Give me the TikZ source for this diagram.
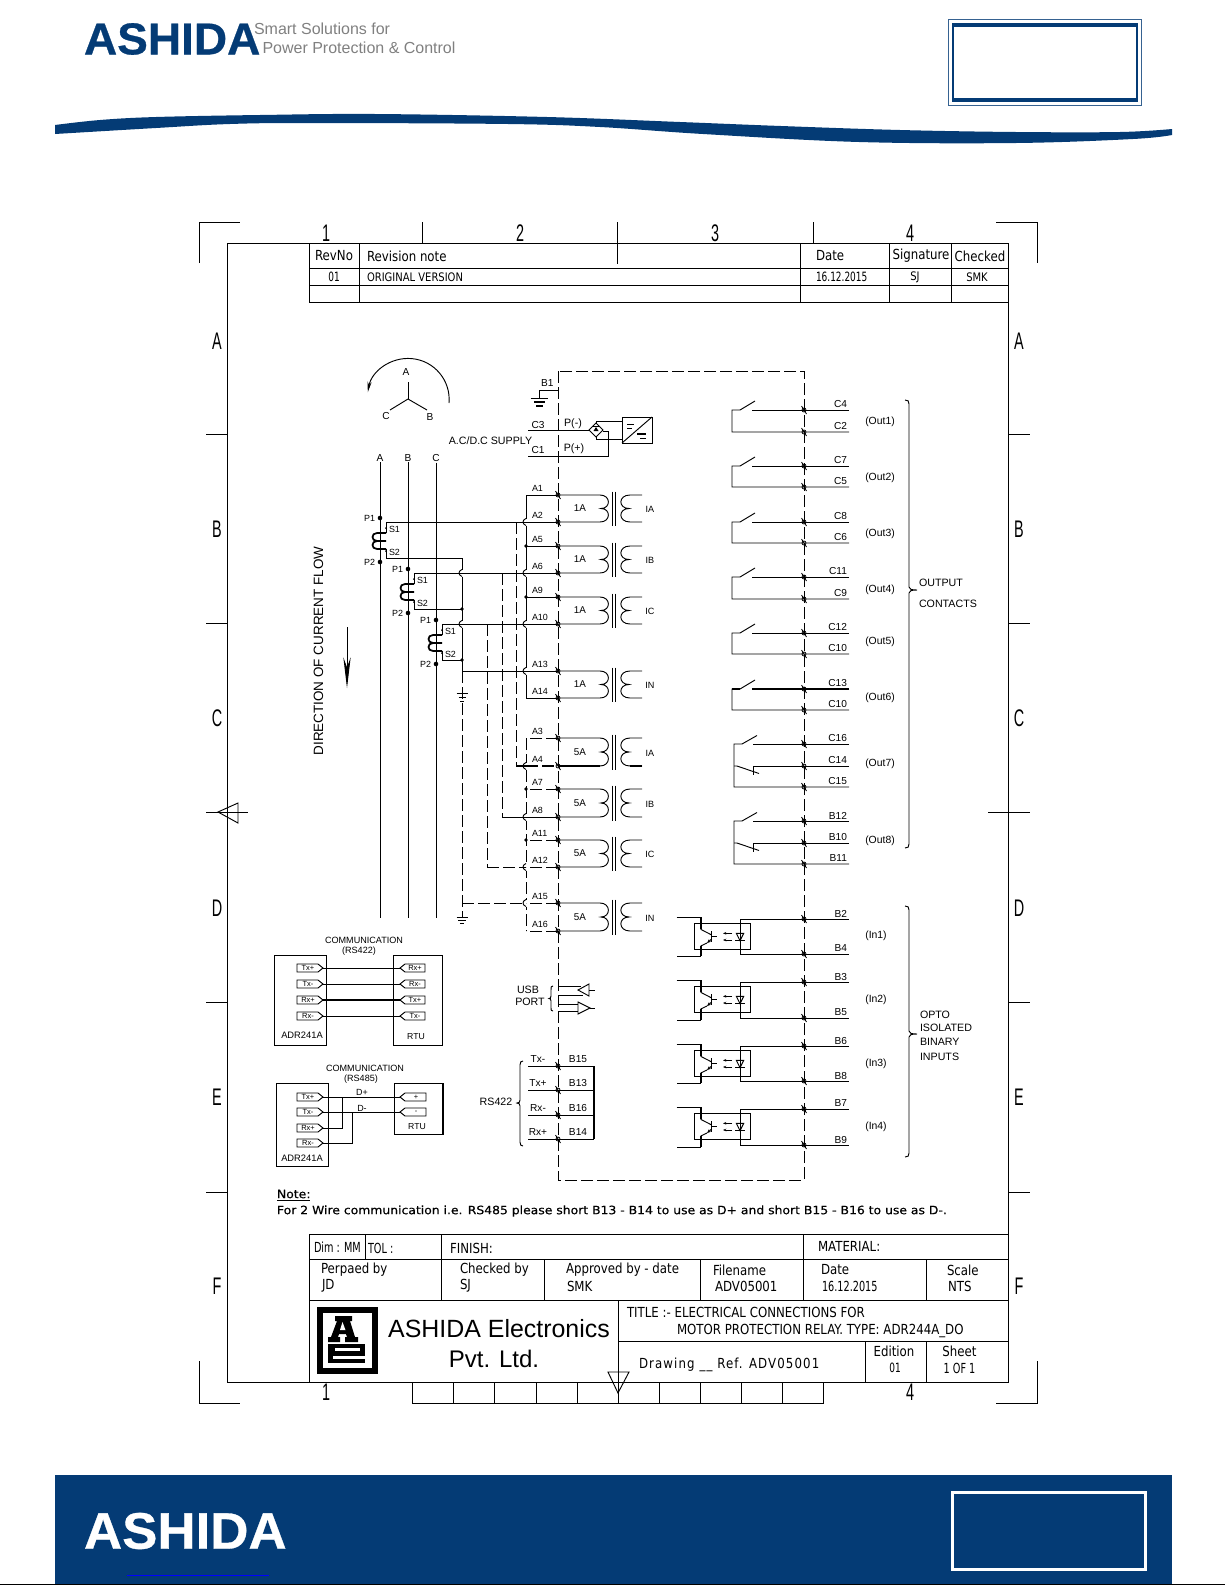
\documentclass[tikz,border=0pt]{standalone}
\usepackage{fontspec}
\setmainfont{Liberation Sans}
\newfontfamily\cadfont[FakeStretch=0.85]{DejaVu Sans}
\newfontfamily\cadnarrow[FakeStretch=0.7]{DejaVu Sans}
\newfontfamily\cadwide[FakeStretch=0.85,LetterSpace=8]{DejaVu Sans}
\newfontfamily\notefont[FakeStretch=1.08,FakeBold=0.4]{DejaVu Sans}
\newfontfamily\sidefont[FakeStretch=0.6]{Liberation Sans}
\newfontfamily\brandfont[FakeStretch=1.03,FakeBold=0.6]{Liberation Sans Bold}
\usetikzlibrary{arrows.meta,calc}
\definecolor{ashidablue}{HTML}{043B75}
\newcommand{\fs}[1]{\fontsize{#1}{#1}\selectfont}
\newcommand{\wirehop}[1]{%
    \fill[white] ($(#1)+(-.6,-3.5)$) rectangle ($(#1)+(.6,3.5)$);
    \draw[wire] ($(#1)+(0,-3.5)$) .. controls ($(#1)+(-4,-2)$) and ($(#1)+(-4,2)$) .. ($(#1)+(0,3.5)$);}
\tikzset{
    wire/.style={line width=.7pt},
    boldwire/.style={line width=1.3pt},
    dashwire/.style={line width=.7pt,dash pattern=on 9pt off 3pt},
    tableline/.style={line width=.65pt},
    thinline/.style={line width=.5pt},
    txt/.style={inner sep=0pt,outer sep=0pt},
    termlbl/.style={txt,font=\fs{6.7}},
    sidelbl/.style={txt,font=\fs{7.6}},
    biglbl/.style={txt,font=\fs{8}},
    taglbl/.style={txt,font=\fs{5.6}},
    cad/.style={txt,font=\cadfont\fs{10.4}},
    cadsmall/.style={txt,font=\cadfont\fs{8.8}},
    caddigit/.style={txt,font=\cadnarrow\fs{9.6}},
    ruler/.style={txt,font=\sidefont\fs{18}},
    termmark/.pic={
        \draw[line width=.6pt] (0,0) circle[radius=2];
        \draw[line width=.6pt] (-2.5,-4) -- (2.5,4);
    }
}
\begin{document}
\begin{tikzpicture}[x=.75pt,y=-.75pt]
    \useasboundingbox (0,0) rectangle (1225,1585);

    \node[txt,anchor=west,text=ashidablue,font=\brandfont\fs{33.5}] (brand) at (84,39) {ASHIDA};
    \node[txt,anchor=west,text=gray,font=\fs{12}] (slogana) at (254,29) {Smart Solutions for};
    \node[txt,anchor=west,text=gray,font=\fs{12}] (sloganb) at (262.5,48) {Power Protection \& Control};
    \draw[ashidablue!80,thinline] (948,19) rectangle (1141,105.5);
    \draw[ashidablue,line width=1.5pt] (953,24) rectangle (1137,101);
    \draw[ashidablue,line width=2.4pt] (953,25) -- (1137,25);
    \draw[ashidablue,line width=2.4pt] (953,100) -- (1137,100);
    \fill[ashidablue] plot[smooth,tension=.6] coordinates {(55,125) (100,120) (156,117) (260,115) (375,114) (547,117) (680,122) (781,126) (900,130) (1016,132) (1120,132) (1172,129)}
        -- plot[smooth,tension=.6] coordinates {(1172,135) (1133,139) (1016,143) (859,142) (703,134) (600,127) (508,124) (312,123) (230,124) (156,128) (55,134)} -- cycle;

    \fill[ashidablue] (55,1475) rectangle (1172,1584);
    \node[txt,anchor=west,text=white,font=\brandfont\fs{38.5}] (brandfoot) at (84,1531) {ASHIDA};
    \draw[white,line width=2.6pt] (952.5,1492.5) rectangle (1145.5,1569.5);
    \draw[blue,line width=.7pt] (127,1575) -- (269,1575);
    \draw[black,line width=1pt] (0,1584.5) -- (1225,1584.5);

    \draw[wire] (199,263) -- (199,222) -- (240,222);
    \draw[wire] (996,222) -- (1037.5,222) -- (1037.5,263);
    \draw[wire] (199,1361) -- (199,1403) -- (240,1403);
    \draw[wire] (996,1403) -- (1037.5,1403) -- (1037.5,1361);
    \draw[tableline] (227,243) rectangle (1008.6,1382);
    \draw[thinline] (422,222) -- (422,243);
    \draw[thinline] (617,222) -- (617,264);
    \draw[thinline] (813,222) -- (813,243);
    \foreach \n/\x in {1/326,2/520,3/715,4/910} {
        \node[ruler] (top\n) at (\x,233) {\n};
    }
    \node[ruler] (bot1) at (326,1392) {1};
    \node[ruler] (bot4) at (910,1392) {4};
    \foreach \t/\y in {A/341,B/529,C/718,D/908,E/1097,F/1286} {
        \node[ruler] (left\t) at (217,\y) {\t};
        \node[ruler] (right\t) at (1019,\y) {\t};
    }
    \foreach \y in {434.6,623,1002,1192} {
        \draw[thinline] (206,\y) -- (227,\y);
        \draw[thinline] (1008.6,\y) -- (1030,\y);
    }
    \draw[wire] (206,812) -- (248,812);
    \draw[wire] (218,812) -- (238,803) -- (238,823) -- cycle;
    \draw[wire] (988,812) -- (1030,812);
    \draw[tableline] (412.5,1382) -- (412.5,1403) -- (823,1403) -- (823,1382);
    \foreach \x in {453.5,494.5,536,577,618,659,700.5,741.5,782} {
        \draw[thinline] (\x,1382) -- (\x,1403);
    }
    \draw[wire] (608,1372) -- (629,1372) -- (618,1393) -- cycle;

    \draw[tableline] (309,243) -- (309,302) -- (1008.6,302);
    \draw[tableline] (309,268) -- (1008.6,268);
    \draw[tableline] (309,285) -- (1008.6,285);
    \foreach \x in {359,800,889,951.6} {
        \draw[thinline] (\x,243) -- (\x,302);
    }
    \node[cad] (revno) at (334,256) {RevNo};
    \node[cad,anchor=west] (revnote) at (367,256) {Revision note};
    \node[cad,anchor=west] (revdate) at (816,256) {Date};
    \node[cad] (revsign) at (921,256) {Signature};
    \node[cad] (revcheck) at (980,256) {Checked};
    \node[caddigit] (revone) at (334,277) {01};
    \node[cadsmall,anchor=west] (revtext) at (367,277) {ORIGINAL VERSION};
    \node[caddigit,anchor=west] (revday) at (816,277) {16.12.2015};
    \node[cadsmall] (revsj) at (915,277) {SJ};
    \node[cadsmall] (revsmk) at (977,277) {SMK};

    \draw[wire] (408,399) -- (408,382);
    \draw[wire] (408,399) -- (390,410);
    \draw[wire] (408,399) -- (427,410);
    \node[sidelbl] (stara) at (406,372) {A};
    \node[sidelbl] (starc) at (386,416) {C};
    \node[sidelbl] (starb) at (430,417) {B};
    \draw[wire,-{Stealth[length=8pt,width=3pt]}] (449,403) arc[start angle=5,end angle=-170,radius=41];

    \draw[dashwire] (558,371) rectangle (804,1180);

    \node[sidelbl,anchor=west] (lblb1) at (541,383) {B1};
    \draw[wire] (558,390) -- (539,390) -- (539,398);
    \draw[wire] (530.5,398) -- (547.5,398);
    \draw[line width=1pt] (534,402) -- (545,402);
    \draw[line width=1.3pt] (536,406) -- (543,406);
    \coordinate (C3) at (558,430);
    \coordinate (C1) at (558,456);
    \node[sidelbl] (lblc3) at (538,425) {C3};
    \node[sidelbl] (lblc1) at (538,450) {C1};
    \node[biglbl] (lblpneg) at (573,424) {P(-)};
    \node[biglbl] (lblppos) at (574,449) {P(+)};
    \node[biglbl] (lblsupply) at (490.5,441) {A.C/D.C SUPPLY};
    \draw[wire] (589,430) -- (596,423) -- (603,430) -- (596,437) -- cycle;
    \fill (596,427) -- (598.5,431) -- (593.5,431) -- cycle;
    \draw[thinline] (593,426.5) -- (599,426.5);
    \draw[wire] (C3) ++(-30,0) -- (589,430);
    \draw[wire] (C1) ++(-30,0) -- (608,456) -- (608,431) -- (603,431);
    \draw[wire] (596,423) -- (596,421.5) -- (622,421.5);
    \draw[wire] (596,437) -- (596,439) -- (622,439);
    \draw[wire] (622,417) rectangle (652,443);
    \draw[wire] (622,443) -- (652,417);
    \draw[wire] (627,424) -- (634,424);
    \draw[wire] (627,428) -- (632,428);
    \draw[line width=1pt] (637,434) -- (646,434);
    \draw[wire] (640,438.5) -- (646,438.5);

    \foreach \t/\x in {A/380,B/408,C/436} {
        \node[sidelbl] (phase\t) at (\x,458) {\t};
        \draw[wire] (phase\t.south) ++(0,1) -- (\x,918);
    }
    \foreach \p/\X/\Y in {a/380/518,b/408/569,c/436/620} {
        \fill (\X,\Y) circle[radius=2.3];
        \fill (\X,\Y+44) circle[radius=2.3];
        \node[termlbl,anchor=east] (\p pa) at (\X-5,\Y) {P1};
        \node[termlbl,anchor=east] (\p pb) at (\X-5,\Y+44) {P2};
        \node[termlbl,anchor=west] (\p sa) at (\X+9,\Y+11) {S1};
        \node[termlbl,anchor=west] (\p sb) at (\X+9,\Y+34) {S2};
        \coordinate (\p top) at (\X+6,\Y+4);
        \coordinate (\p bot) at (\X+6,\Y+40);
        \fill (\X+6,\Y+10) circle[radius=1];
        \fill (\X+6,\Y+33) circle[radius=1];
        \draw[wire] (\p top) -- (\X+6,\Y+15);
        \draw[wire] (\p bot) -- (\X+6,\Y+31);
        \draw[boldwire] (\X+6,\Y+15) -- (\X-3,\Y+15) .. controls (\X-9,\Y+15) and (\X-9,\Y+23) .. (\X-3,\Y+23) -- (\X+6,\Y+23);
        \draw[boldwire] (\X-3,\Y+23) .. controls (\X-9,\Y+23) and (\X-9,\Y+31) .. (\X-3,\Y+31) -- (\X+6,\Y+31);
    }

    \foreach \n/\y in {A1/495,A2/522,A5/546,A6/573,A9/597,A10/624,A13/671,A14/698,A3/738,A4/766,A7/789,A8/817,A11/840,A12/867,A15/903,A16/931} {
        \coordinate (\n) at (558,\y);
        \coordinate (\n b) at (526,\y);
        \node[termlbl,anchor=west] (lbl\n) at (532,\y-6.5) {\n};
    }
    \draw[wire] (A1b) -- (A14b);
    \draw[dashwire] (A3b) -- (A16b);
    \foreach \n in {A2,A6,A10,A13,A4,A8,A12,A15} {
        \wirehop{\n b}
    }
    \coordinate (neuta) at (462,558);
    \coordinate (neutb) at (462,671);
    \coordinate (neutc) at (462,917);
    \draw[wire] (neutb) -- (neuta);
    \draw[dashwire] (neutb) -- (neutc);
    \wirehop{462,573}
    \wirehop{462,624}
    \foreach \n in {A1,A2,A5,A6,A9,A10,A13,A14} {
        \draw[wire] (\n) -- (\n b);
    }
    \foreach \n in {A3,A7,A11,A12,A15,A16} {
        \draw[dashwire] (\n) -- (\n b);
    }
    \draw[wire] (A8) -- (A8b);
    \draw[wire] (A2b) -- (atop);
    \draw[wire] (A6b) -- (btop);
    \draw[wire] (A10b) -- (ctop);
    \draw[wire] (A13b) -- (neutb);
    \draw[wire] (abot) -- (neuta);
    \draw[wire] (bbot) -- (462,609);
    \draw[wire] (cbot) -- (462,660);
    \fill (462,609) circle[radius=1.8];
    \fill (462,660) circle[radius=1.8];
    \foreach \n in {A5,A9,A7,A11} {
        \fill (\n b) circle[radius=1.8];
    }
    \draw[dashwire] (516,522) -- (516,766);
    \draw[dashwire] (502,573) -- (502,817);
    \draw[dashwire] (487,624) -- (487,867);
    \draw[boldwire] (516,766) -- (A4b);
    \draw[line width=1.3pt,dash pattern=on 9pt off 3pt] (A4b) -- (A4);
    \draw[wire] (502,817) -- (A8b);
    \draw[dashwire] (487,867) -- (A12b);
    \draw[dashwire] (neutc |- A15) -- (A15b);
    \foreach \y/\w in {693/5.5,697/3.5,701/2} {
        \draw[wire] (462-\w,\y) -- (462+\w,\y);
    }
    \foreach \y/\w in {917/5.5,920/3.8,923/2.2} {
        \draw[wire] (462-\w,\y) -- (462+\w,\y);
    }
    \foreach \a/\b/\amp/\sec in {A1/A2/1A/IA,A5/A6/1A/IB,A9/A10/1A/IC,A13/A14/1A/IN,A3/A4/5A/IA,A7/A8/5A/IB,A11/A12/5A/IC,A15/A16/5A/IN} {
        \coordinate (mid) at ($(\a)!.5!(\b)$);
        \draw[wire] (\a) -- ++(42,0) .. controls ($(\a)+(53,0)$) and ($(mid)+(53,0)$) .. ($(mid)+(43,0)$)
            .. controls ($(mid)+(53,0)$) and ($(\b)+(53,0)$) .. ($(\b)+(42,0)$) -- (\b);
        \draw[wire] ($(\a)+(84,0)$) -- ($(\a)+(72,0)$) .. controls ($(\a)+(60,0)$) and ($(mid)+(60,0)$) .. ($(mid)+(71,0)$)
            .. controls ($(mid)+(60,0)$) and ($(\b)+(60,0)$) .. ($(\b)+(72,0)$) -- ($(\b)+(84,0)$);
        \draw[wire] ($(\a)+(54.7,-3.5)$) -- ($(\b)+(54.7,3.5)$);
        \draw[wire] ($(\a)+(57.7,-3.5)$) -- ($(\b)+(57.7,3.5)$);
        \node[txt,font=\fs{7.4}] (amp\a) at ($(mid)+(22,0)$) {\amp};
        \node[txt,font=\fs{6.8}] (sec\a) at ($(mid)+(92,1)$) {\sec};
    }
    \draw[boldwire] (A4) -- ++(42,0);
    \draw[boldwire] ($(A4)+(72,0)$) -- ++(12,0);
    \foreach \n in {A1,A2,A5,A6,A9,A10,A13,A14,A3,A4,A7,A8,A11,A12,A15,A16} {
        \pic at (\n) {termmark};
    }

    \node[txt,rotate=90,font=\fs{10.1}] (flowlbl) at (318.5,651) {DIRECTION OF CURRENT FLOW};
    \draw[wire,-{Stealth[length=23pt,width=5.5pt]}] (347,627) -- (347,688);

    \foreach \n/\t/\y in {C4/C4/410,C2/C2/432,C7/C7/466,C5/C5/487,C8/C8/522,C6/C6/543,C11/C11/577,C9/C9/599,C12/C12/633,C10a/C10/654,C13/C13/689,C10b/C10/710,C16/C16/744,C14/C14/766,C15/C15/787,B12/B12/821,B10/B10/843,B11/B11/864,B2/B2/919,B4/B4/954,B3/B3/982,B5/B5/1018,B6/B6/1046,B8/B8/1081,B7/B7/1109,B9/B9/1145} {
        \coordinate (\n) at (804,\y);
        \node[sidelbl,anchor=east] (lbl\n) at (847,\y-5.5) {\t};
    }
    \foreach \a/\b in {C4/C2,C7/C5,C8/C6,C11/C9,C12/C10a,C13/C10b} {
        \draw[wire] ($(\a)+(45,0)$) -- ($(\a)+(-52,0)$);
        \draw[wire] ($(\b)+(45,0)$) -- ($(\b)+(-72,0)$) -- ($(\a)+(-72,0)$) -- ($(\a)+(-64,0)$) -- ($(\a)+(-49,-9)$);
    }
    \draw[boldwire] ($(C13)+(45,0)$) -- ($(C13)+(-52,0)$);
    \draw[boldwire] ($(C13)+(-72,0)$) -- ($(C13)+(-64,0)$);
    \foreach \a/\c/\b in {C16/C14/C15,B12/B10/B11} {
        \draw[wire] ($(\a)+(45,0)$) -- ($(\a)+(-51,0)$);
        \draw[wire] ($(\b)+(45,0)$) -- ($(\b)+(-70,0)$) -- ($(\a)+(-70,0)$) -- ($(\a)+(-62,0)$) -- ($(\a)+(-47,-8.5)$);
        \draw[wire] ($(\c)+(45,0)$) -- ($(\c)+(-51,0)$) -- ($(\c)+(-51,9)$);
        \draw[wire] ($(\c)+(-70,0)$) -- ($(\c)+(-67,0)$) -- ($(\c)+(-45,7.5)$);
    }
    \foreach \n/\y in {1/422,2/478.3,3/533.7,4/589.7,5/641.7,6/697.7,7/763.3,8/840.3} {
        \node[txt,font=\fs{7.8}] (out\n) at (880,\y) {(Out\n)};
    }
    \foreach \n/\y in {1/936,2/1000,3/1063.3,4/1127} {
        \node[txt,font=\fs{7.8}] (in\n) at (876,\y) {(In\n)};
    }
    \draw[wire] (905,400) .. controls (908,400) and (909,401) .. (909,404) -- (909,587) .. controls (909,589) and (911,590) .. (917,590)
        .. controls (911,590) and (909,591) .. (909,593) -- (909,844) .. controls (909,847) and (908,848) .. (905,848);
    \draw[wire] (905,906) .. controls (908,906) and (909,907) .. (909,910) -- (909,1031) .. controls (909,1033) and (911,1034) .. (917,1034)
        .. controls (911,1034) and (909,1035) .. (909,1037) -- (909,1153) .. controls (909,1156) and (908,1157) .. (905,1157);
    \node[biglbl,anchor=west] (outa) at (919,583) {OUTPUT};
    \node[biglbl,anchor=west] (outb) at (919,604) {CONTACTS};
    \node[biglbl,anchor=west] (optoa) at (920,1014.5) {OPTO};
    \node[biglbl,anchor=west] (optob) at (920,1028) {ISOLATED};
    \node[biglbl,anchor=west] (optoc) at (920,1042) {BINARY};
    \node[biglbl,anchor=west] (optod) at (920,1056.5) {INPUTS};

    \foreach \a/\b in {B2/B4,B3/B5,B6/B8,B7/B9} {
        \draw[wire] ($(\a)+(45,0)$) -- ($(\a)+(-64,0)$) -- ($(\b)+(-64,0)$) -- ($(\b)+(45,0)$);
        \draw[wire] ($(\a)+(-110,4.5)$) rectangle ($(\a)+(-54,30.5)$);
        \draw[wire] ($(\a)+(-67.7,14.3)$) -- ($(\a)+(-60.3,14.3)$) -- ($(\a)+(-64,21.7)$) -- cycle;
        \draw[wire] ($(\a)+(-69,21.7)$) -- ($(\a)+(-59,21.7)$);
        \draw[wire,-{Stealth[length=2.5pt,width=2pt]}] ($(\a)+(-72,14.3)$) -- ($(\a)+(-81,14.3)$);
        \draw[wire,-{Stealth[length=2.5pt,width=2pt]}] ($(\a)+(-72,21)$) -- ($(\a)+(-81,21)$);
        \draw[wire] ($(\a)+(-127.3,-2)$) -- ($(\a)+(-103.3,-2)$);
        \draw[boldwire] ($(\a)+(-103.3,-2)$) -- ($(\a)+(-103.3,10.3)$);
        \draw[wire] ($(\a)+(-103.3,10.3)$) -- ($(\a)+(-92.3,16)$);
        \draw[wire] ($(\a)+(-92.3,12)$) -- ($(\a)+(-92.3,23)$);
        \draw[wire] ($(\a)+(-92.3,17)$) -- ($(\a)+(-87.3,17)$);
        \draw[wire,{Stealth[length=3pt,width=2.5pt]}-] ($(\a)+(-97,24)$) -- ($(\a)+(-92.3,20)$);
        \draw[wire] ($(\a)+(-97,24)$) -- ($(\a)+(-103.3,27)$);
        \draw[boldwire] ($(\a)+(-103.3,27)$) -- ($(\b)+(-103.3,2)$);
        \draw[wire] ($(\b)+(-103.3,2)$) -- ($(\b)+(-127.3,2)$);
    }
    \foreach \n in {C4,C2,C7,C5,C8,C6,C11,C9,C12,C10a,C13,C10b,C16,C14,C15,B12,B10,B11,B2,B4,B3,B5,B6,B8,B7,B9} {
        \pic at (\n) {termmark};
    }

    \node[txt,font=\fs{6.8}] (commone) at (364,940) {COMMUNICATION};
    \node[txt,font=\fs{6.8}] (commonetype) at (359,951) {(RS422)};
    \draw[wire] (274,955) rectangle (326,1045);
    \draw[wire] (393,955) rectangle (442,1045);
    \node[txt,font=\fs{7}] (devone) at (302,1035) {ADR241A};
    \node[txt,font=\fs{6.5}] (rtuone) at (416,1037) {RTU};
    \foreach \n/\s/\r/\y in {1/Tx+/Rx+/968,2/Tx-/Rx-/984,3/Rx+/Tx+/1000,4/Rx-/Tx-/1016} {
        \draw[wire] (297,\y-4) -- (318,\y-4) -- (323,\y) -- (318,\y+4) -- (297,\y+4) -- cycle;
        \draw[wire] (400,\y) -- (405,\y-4) -- (425,\y-4) -- (425,\y+4) -- (405,\y+4) -- cycle;
        \node[taglbl] (sa\n) at (308,\y) {\s};
        \node[taglbl] (ra\n) at (415,\y) {\r};
        \coordinate (sp\n) at (323,\y);
        \coordinate (rp\n) at (400,\y);
    }
    \draw[wire] (sp1) -- (rp1);
    \draw[wire] (sp2) -- (rp2);
    \draw[boldwire] (sp3) -- (rp3);
    \draw[wire] (sp4) -- (rp4);

    \node[txt,font=\fs{6.8}] (commtwo) at (365,1068) {COMMUNICATION};
    \node[txt,font=\fs{6.8}] (commtwotype) at (361,1079) {(RS485)};
    \draw[wire] (276,1083) rectangle (328,1166);
    \draw[wire] (394,1083) rectangle (443,1134);
    \draw[boldwire] (443,1083) -- (443,1134);
    \node[txt,font=\fs{7}] (devtwo) at (302,1158) {ADR241A};
    \node[txt,font=\fs{6.5}] (rtutwo) at (417,1127) {RTU};
    \foreach \n/\s/\y in {1/Tx+/1097,2/Tx-/1112,3/Rx+/1128,4/Rx-/1143} {
        \draw[wire] (297,\y-4) -- (318,\y-4) -- (323,\y) -- (318,\y+4) -- (297,\y+4) -- cycle;
        \node[taglbl] (sb\n) at (308,\y) {\s};
        \coordinate (sq\n) at (323,\y);
    }
    \foreach \n/\s/\y in {1/+/1097,2/-/1112} {
        \draw[wire] (400,\y) -- (405,\y-4) -- (426,\y-4) -- (426,\y+4) -- (405,\y+4) -- cycle;
        \node[taglbl] (rb\n) at (416,\y) {\s};
        \coordinate (rq\n) at (400,\y);
    }
    \draw[wire] (sq1) -- (rq1);
    \draw[wire] (sq2) -- (rq2);
    \draw[wire] (sq3) -| (342,1097);
    \draw[wire] (sq4) -| (352,1112);
    \node[termlbl] (lbldp) at (362,1092) {D+};
    \node[termlbl] (lbldm) at (362,1108) {D-};

    \node[biglbl] (usba) at (528,990) {USB};
    \node[biglbl] (usbb) at (530,1002) {PORT};
    \draw[wire] (553,986) .. controls (551,986) and (551,987) .. (551,990) -- (551,996) .. controls (551,998) and (550,998.5) .. (549,998.5)
        .. controls (550,998.5) and (551,999) .. (551,1001) -- (551,1008) .. controls (551,1010) and (551,1011) .. (553,1011);
    \draw[wire] (558,986) -- (581,986);
    \draw[wire] (558,995) -- (583,995);
    \draw[wire] (578,990) -- (589,984) -- (589,996) -- cycle;
    \draw[wire] (589,990) -- (595,990);
    \draw[wire] (558,1004) -- (578,1004);
    \draw[wire] (558,1011) -- (578,1011);
    \draw[wire] (578,1002) -- (590,1008) -- (578,1014) -- cycle;
    \draw[wire] (590,1008) -- (595,1008);

    \foreach \n/\t/\s/\y in {p/Tx-/B15/1066,q/Tx+/B13/1090,r/Rx-/B16/1115,u/Rx+/B14/1139} {
        \coordinate (rs\n) at (558,\y);
        \coordinate (rsend\n) at (594,\y);
        \node[sidelbl] (rstx\n) at (538,\y-7) {\t};
        \node[sidelbl] (rsno\n) at (578,\y-7) {\s};
        \draw[wire] (528,\y) -- (rsend\n);
    }
    \draw[boldwire] (rsendp) -- (rsendu);
    \foreach \n in {p,q,r,u} {
        \pic at (rs\n) {termmark};
    }
    \draw[wire] (523,1061) .. controls (521,1061) and (520,1062) .. (520,1065) -- (520,1100) .. controls (520,1102) and (519,1103) .. (517,1103)
        .. controls (519,1103) and (520,1104) .. (520,1106) -- (520,1142) .. controls (520,1145) and (521,1146) .. (523,1146);
    \node[biglbl] (rslbl) at (496,1102) {RS422};

    \node[txt,anchor=west,font=\notefont\fs{8.6}] (notehead) at (277,1194) {Note:};
    \draw[wire] (277,1200) -- (310,1200);
    \node[txt,anchor=west,font=\notefont\fs{8.6}] (notetext) at (277,1211) {For 2 Wire communication i.e. RS485 please short B13 - B14 to use as D+ and short B15 - B16 to use as D-.};

    \draw[tableline] (309.4,1234) -- (1008.6,1234);
    \draw[tableline] (309.4,1259) -- (1008.6,1259);
    \draw[tableline] (309.4,1300) -- (1008.6,1300);
    \draw[tableline] (618,1341) -- (1008.6,1341);
    \draw[tableline] (309.4,1234) -- (309.4,1382);
    \draw[thinline] (365,1234) -- (365,1259);
    \draw[tableline] (441,1234) -- (441,1300);
    \draw[tableline] (803,1234) -- (803,1300);
    \draw[tableline] (544.5,1259) -- (544.5,1300);
    \draw[tableline] (700.6,1259) -- (700.6,1300);
    \draw[tableline] (926.5,1259) -- (926.5,1300);
    \draw[tableline] (618,1300) -- (618,1382);
    \draw[tableline] (865,1341) -- (865,1382);
    \draw[tableline] (926.5,1341) -- (926.5,1382);
    \node[txt,anchor=west,font=\cadnarrow\fs{10.4}] (dimmm) at (314,1247) {Dim : MM};
    \node[txt,anchor=west,font=\cadnarrow\fs{10.4}] (toler) at (368,1248) {TOL :};
    \node[cad,anchor=west] (finish) at (450,1248) {FINISH:};
    \node[cad,anchor=west] (material) at (818,1246) {MATERIAL:};
    \node[cad,anchor=west] (prepared) at (321,1270) {Perpaed by};
    \node[cad,anchor=west] (preparer) at (322,1286) {JD};
    \node[cad,anchor=west] (checked) at (460,1270) {Checked by};
    \node[cad,anchor=west] (checker) at (460,1286) {SJ};
    \node[cad,anchor=west] (approved) at (566,1270) {Approved by - date};
    \node[cad,anchor=west] (approver) at (567,1286) {SMK};
    \node[cad,anchor=west] (filename) at (713,1270) {Filename};
    \node[cad,anchor=west] (filecode) at (715,1286) {ADV05001};
    \node[cad,anchor=west] (datehead) at (821,1270) {Date};
    \node[txt,anchor=west,font=\cadnarrow\fs{10.4}] (dateval) at (822,1286) {16.12.2015};
    \node[cad,anchor=west] (scalehead) at (947,1270) {Scale};
    \node[cad,anchor=west] (scaleval) at (948,1286) {NTS};
    \node[cad,anchor=west] (titlea) at (627,1312) {TITLE :- ELECTRICAL CONNECTIONS FOR};
    \node[cad,anchor=west] (titleb) at (677,1331) {MOTOR PROTECTION RELAY. TYPE: ADR244A\_DO};
    \node[txt,anchor=west,font=\cadwide\fs{10.4}] (drawing) at (639,1365) {Drawing \_\_ Ref. ADV05001};
    \node[cad] (edition) at (894,1351) {Edition};
    \node[caddigit] (editionno) at (895,1368) {01};
    \node[cad] (sheet) at (959.5,1351) {Sheet};
    \node[txt,font=\cadnarrow\fs{10.4}] (sheetno) at (959.5,1368) {1 OF 1};

    \fill[black] (317,1307) rectangle (378,1374);
    \fill[white] (323,1313) rectangle (372,1368);
    \fill[black] (335,1316) -- (352,1316) -- (352,1321) -- (350,1321) -- (355,1337) -- (358,1337) -- (358,1342) -- (345,1342) -- (345,1337) -- (347,1337) -- (346,1334) -- (339,1334) -- (338,1337) -- (340,1337) -- (340,1342) -- (328,1342) -- (328,1337) -- (331,1337) -- (337,1321) -- (335,1321) -- cycle;
    \fill[white] (342.5,1322) -- (345.5,1330) -- (340,1330) -- cycle;
    \fill[black] (328,1344) rectangle (365,1363);
    \fill[white] (335,1348) rectangle (360,1350.5);
    \fill[white] (333,1356) rectangle (365,1358.5);
    \node[txt,font=\fs{18.7}] (corpname) at (499,1329) {ASHIDA Electronics};
    \node[txt,font=\fs{18}] (corpkind) at (494,1359) {Pvt. Ltd.};
\end{tikzpicture}
\end{document}
